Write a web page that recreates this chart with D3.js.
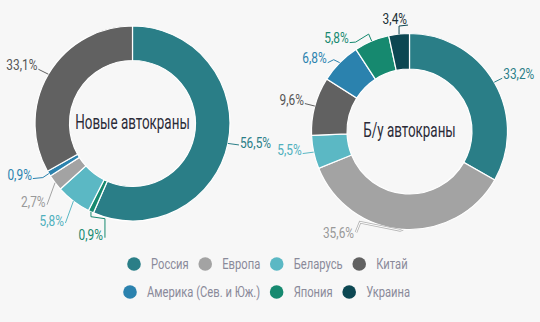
<!DOCTYPE html>
<html><head><meta charset="utf-8">
<script src="https://cdn.jsdelivr.net/npm/d3@7"></script>
<style>
html,body{margin:0;padding:0;background:#f7f7f7;}
svg{display:block;}
text{font-family:"Roboto","Noto Sans",sans-serif;}
</style></head>
<body>
<svg id="c" width="540" height="322"></svg>
<script>
// ---- data ----
const categories = ["Россия","Европа","Беларусь","Китай","Америка (Сев. и Юж.)","Япония","Украина"];
const colors = ["#2a7e87","#a3a3a3","#5bb8c4","#616161","#2b82ae","#16896f","#0c4752"];
const labelColors = ["#2a7e87","#999999","#4fb0bd","#555555","#2b82ae","#16896f","#1a2f35"];

// new cranes (clockwise order as drawn)
const newOrder  = ["Россия","Япония","Беларусь","Европа","Америка (Сев. и Юж.)","Китай"];
const newValues = [56.5, 0.9, 5.8, 2.7, 0.9, 33.1];
// used cranes
const usedOrder  = ["Россия","Европа","Беларусь","Китай","Америка (Сев. и Юж.)","Япония","Украина"];
const usedValues = [33.2, 35.6, 5.5, 9.6, 6.8, 5.8, 3.4];

const titles = ["Новые автокраны","Б/у автокраны"];

// ---- label layout (offsets from slice outer midpoint) ----
const newLayout = [
  {pts:[[11,1.5]], anchor:"start", tx:1, ty:3},
  {pts:[[0,5],[14,7],[14,26]], anchor:"end", tx:-2, ty:2},
  {pts:[[-8,22]], anchor:"end", tx:-1.5, ty:2.5},
  {pts:[[-8,22]], anchor:"end", tx:-1.5, ty:2},
  {pts:[[-6,4],[-16,5]], anchor:"end", tx:-1, ty:1},
  {pts:[[-10,-5]], anchor:"end", tx:-1, ty:0.5}
];
const usedLayout = [
  {pts:[[8,-4]], anchor:"start", tx:1, ty:1},
  {pts:[[-3,1],[-43,-7],[-47,3]], anchor:"end", tx:-2, ty:6, light:true},
  {pts:[[-11,1.4]], anchor:"end", tx:-1, ty:1},
  {pts:[[-10,-2.5]], anchor:"end", tx:-1, ty:1},
  {pts:[[-6,-3],[-12,0]], anchor:"end", tx:-1, ty:0},
  {pts:[[-3,-7],[-16,1],[-22,1.5]], anchor:"end", tx:-1, ty:0.5},
  {pts:[[0,-8],[9,-9]], anchor:"end", tx:-1, ty:-1}
];

function condense(k){
  return function(sel){
    sel.each(function(){
      const w = this.getComputedTextLength();
      d3.select(this).attr("textLength", w*k).attr("lengthAdjust","spacingAndGlyphs");
    });
  };
}

const svg = d3.select("#c");
const color = d3.scaleOrdinal().domain(categories).range(colors);
const lcolor = d3.scaleOrdinal().domain(categories).range(labelColors);
const fmt = v => d3.format(".1f")(v).replace(".", ",") + "%";

function donut(cx, cy, R, r, order, values, layout, title){
  const g = svg.append("g").attr("transform",`translate(${cx},${cy})`);
  const data = order.map((k,i)=>({key:k, value:values[i], lay:layout[i]}));
  const pie = d3.pie().sort(null).value(d=>d.value);
  const arcs = pie(data);
  const arc = d3.arc().innerRadius(r).outerRadius(R);
  g.selectAll("path.slice").data(arcs).join("path")
    .attr("class","slice")
    .attr("d", arc)
    .attr("fill", d=>color(d.data.key))
    .attr("stroke","#ffffff").attr("stroke-width",1.2);

  arcs.forEach(d=>{
    const a = (d.startAngle + d.endAngle)/2;
    const p0 = [R*Math.sin(a), -R*Math.cos(a)];
    const L = d.data.lay;
    const pts = [p0].concat(L.pts.map(o=>[p0[0]+o[0], p0[1]+o[1]]));
    const line = d3.line();
    if(L.light){
      g.append("path").attr("d", line(pts)).attr("fill","none")
        .attr("stroke","#b5b5b5").attr("stroke-width",2.6);
      g.append("path").attr("d", line(pts)).attr("fill","none")
        .attr("stroke","#ffffff").attr("stroke-width",1);
    } else {
      g.append("path").attr("d", line(pts)).attr("fill","none")
        .attr("stroke", color(d.data.key)).attr("stroke-width",1);
    }
    const last = pts[pts.length-1];
    g.append("text")
      .attr("x", last[0]+L.tx).attr("y", last[1]+L.ty)
      .attr("text-anchor", L.anchor)
      .attr("font-size", 14.5)
      .attr("fill", lcolor(d.data.key))
      .text(fmt(d.data.value))
      .call(condense(0.82));
  });

  g.append("text").attr("x",0).attr("y",5)
    .attr("text-anchor","middle")
    .attr("font-size",20)
    .attr("fill","#2b2b38")
    .text(title)
    .call(condense(0.67));
}

donut(132.5, 123.5, 97.5, 63, newOrder, newValues, newLayout, titles[0]);
donut(409.5, 131.5, 98, 62.5, usedOrder, usedValues, usedLayout, titles[1]);

// ---- legend ----
const legendRows = [
  ["Россия","Европа","Беларусь","Китай"],
  ["Америка (Сев. и Юж.)","Япония","Украина"]
];
const legendY = [264, 292];
const legendStartX = [134, 130];
const lg = svg.append("g");
legendRows.forEach((row,ri)=>{
  let x = legendStartX[ri];
  row.forEach(k=>{
    lg.append("circle").attr("cx",x).attr("cy",legendY[ri]).attr("r",6.8).attr("fill",color(k));
    const t = lg.append("text").attr("x",x+17).attr("y",legendY[ri]+5)
      .attr("font-size",14).attr("fill","#8a8a9a").text(k).call(condense(0.8));
    const w = +t.attr("textLength");
    x = x + 17 + w + 16.5;
  });
});
</script>
</body></html>
